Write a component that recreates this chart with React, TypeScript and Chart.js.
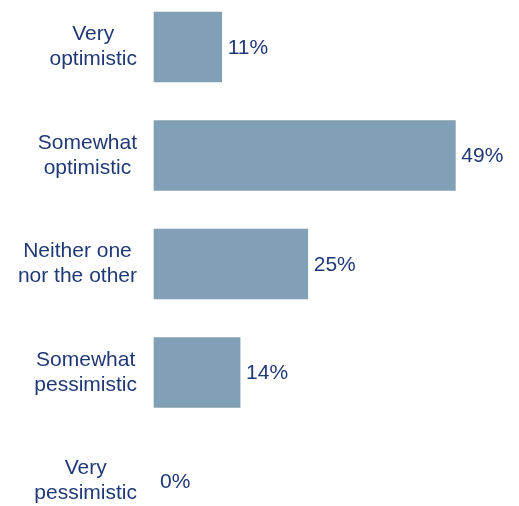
import React, { useEffect, useRef } from "react";
import { Chart, registerables } from "chart.js";

Chart.register(...registerables);

const categories: string[][] = [
  ["Very", "optimistic"],
  ["Somewhat", "optimistic"],
  ["Neither one", "nor the other"],
  ["Somewhat", "pessimistic"],
  ["Very", "pessimistic"],
];
const values: number[] = [11, 49, 25, 14, 0];
const valueLabels: string[] = ["11%", "49%", "25%", "14%", "0%"];

const BAR_COLOR = "#82A0B5";
const TEXT_COLOR = "#1F3876";
const FONT = "21px 'Liberation Sans', Arial, sans-serif";

const labelsPlugin = {
  id: "customLabels",
  afterDatasetsDraw(chart: any) {
    const ctx = chart.ctx;
    const meta = chart.getDatasetMeta(0);
    const yScale = chart.scales.y;
    ctx.save();
    ctx.font = FONT;
    ctx.fillStyle = TEXT_COLOR;
    ctx.textBaseline = "middle";
    // value labels
    meta.data.forEach((bar: any, i: number) => {
      ctx.textAlign = "left";
      ctx.fillText(valueLabels[i], bar.x + 6, bar.y + 1);
    });
    // category labels: block right-aligned, lines centered
    const rightEdge = 137;
    const lineH = 25;
    categories.forEach((lines, i) => {
      const cy = yScale.getPixelForValue(i);
      const widest = Math.max(...lines.map((l) => ctx.measureText(l).width));
      const cx = rightEdge - widest / 2;
      ctx.textAlign = "center";
      const startY = cy - ((lines.length - 1) * lineH) / 2;
      lines.forEach((l, j) => {
        ctx.fillText(l, cx, startY + j * lineH);
      });
    });
    ctx.restore();
  },
};

export default function App() {
  const ref = useRef<HTMLCanvasElement | null>(null);
  useEffect(() => {
    if (!ref.current) return;
    const chart = new Chart(ref.current, {
      type: "bar",
      data: {
        labels: categories.map((c) => c.join(" ")),
        datasets: [
          {
            data: values,
            backgroundColor: values.map((v) => (v > 0 ? BAR_COLOR : "rgba(0,0,0,0)")),
            borderWidth: 0,
            barThickness: 70,
            clip: false as any,
          },
        ],
      },
      options: {
        indexAxis: "y",
        animation: false,
        responsive: false,
        maintainAspectRatio: false,
        layout: { padding: { left: 154, right: 57.5, top: 47, bottom: 25 } },
        plugins: {
          legend: { display: false },
          tooltip: { enabled: false },
        },
        scales: {
          x: { display: false, min: 0, max: 50 },
          y: { display: false, offset: false },
        },
      },
      plugins: [labelsPlugin],
    });
    return () => chart.destroy();
  }, []);
  return (
    <div style={{ position: "fixed", left: 0, top: 0, width: 519, height: 506, background: "#fff" }}>
      <canvas ref={ref} width={519} height={506} style={{ width: 519, height: 506, display: "block" }} />
    </div>
  );
}
